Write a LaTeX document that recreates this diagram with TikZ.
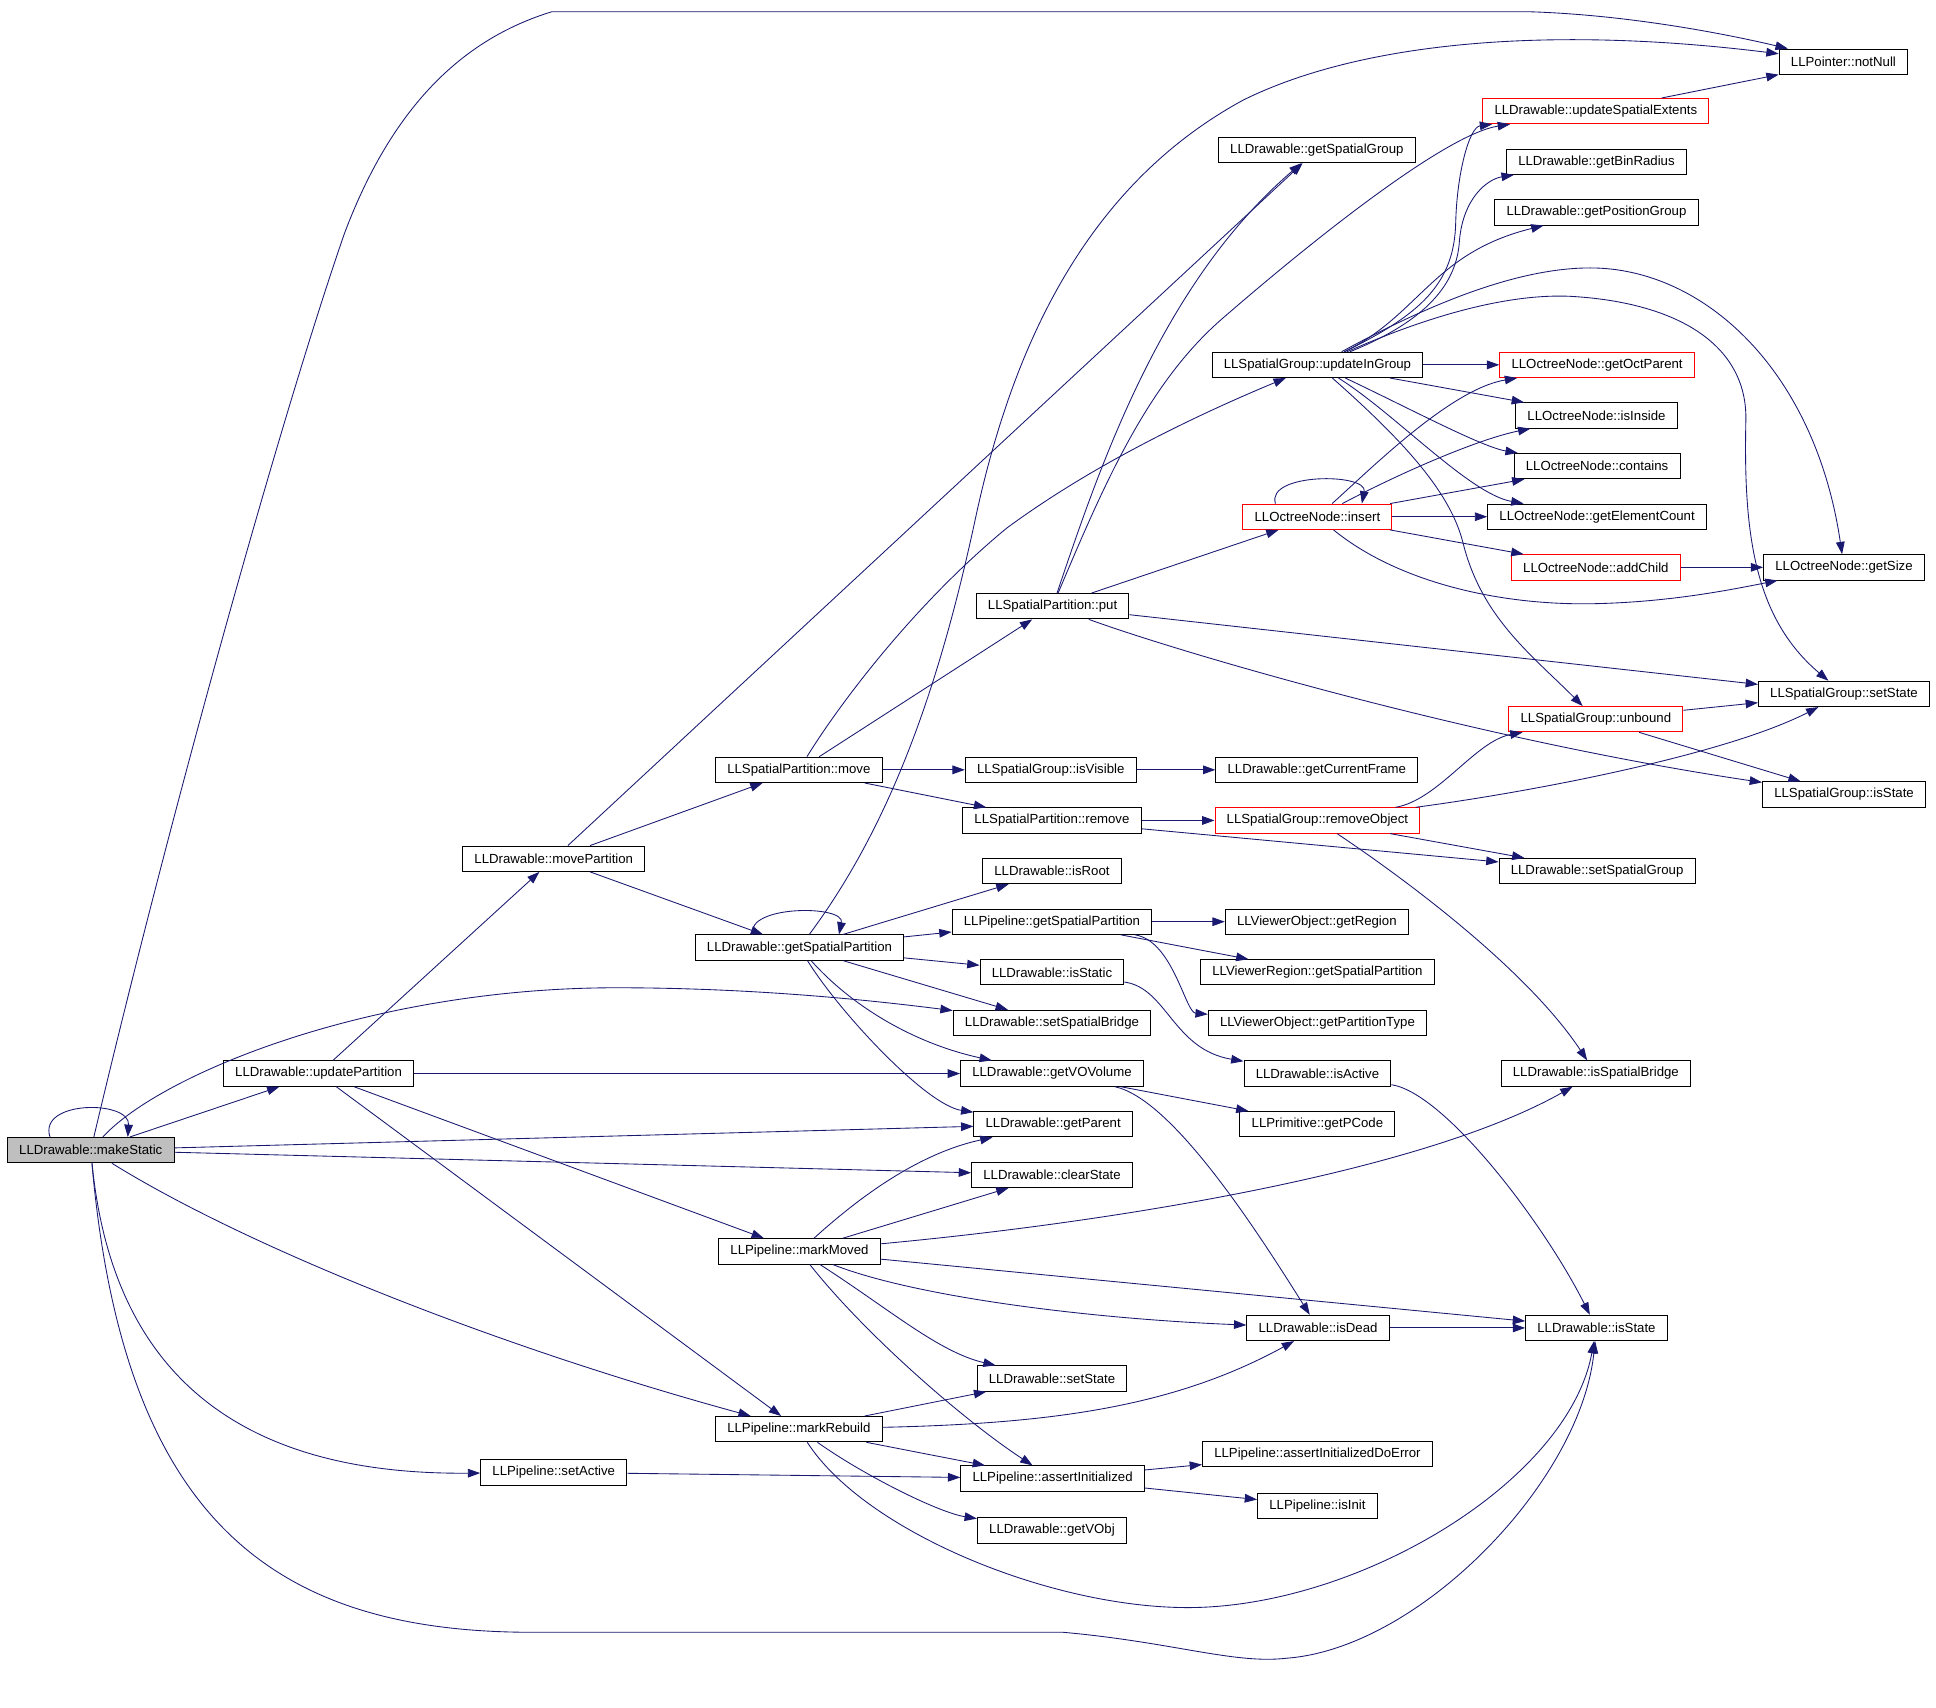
\documentclass[tikz,border=0pt]{standalone}
\usepackage{fontspec}
\setmainfont{Liberation Sans}
\usetikzlibrary{arrows.meta}
\definecolor{edgeblue}{HTML}{191970}
\definecolor{rootgray}{HTML}{BFBFBF}

\begin{document}
\begin{tikzpicture}[
    x=1pt, y=-1pt,
    func/.style={%
      draw,
      rectangle,
      line width=0.8pt,
      minimum height=20.5pt,
      inner xsep=9.5pt,
      inner ysep=0pt,
      font=\fontsize{10.7}{12}\selectfont,
    },
    redfunc/.style={func, draw=red},
    rootfunc/.style={func, fill=rootgray},
    call/.style={%
      color=edgeblue,
      line width=0.7pt,
      -{Triangle[length=10pt,width=7pt]},
    },
  ]
    \useasboundingbox (0,0) rectangle (1568,1383);

    % columns of the call graph
    \node [rootfunc] (ms) at (73.5,931.5) {LLDrawable::makeStatic};

    \node [func] (up) at (258,869.5) {LLDrawable::updatePartition};
    \node [func] (mp) at (448.5,695.5) {LLDrawable::movePartition};
    \node [func] (sa) at (448.5,1192.5) {LLPipeline::setActive};

    \node [func] (spm) at (647,623.5) {LLSpatialPartition::move};
    \node [func] (gsp) at (647.5,767.5) {LLDrawable::getSpatialPartition};
    \node [func] (mm) at (647.5,1013.5) {LLPipeline::markMoved};
    \node [func] (mr) at (647,1157.5) {LLPipeline::markRebuild};

    \node [func] (spp) at (852.5,491) {LLSpatialPartition::put};
    \node [func] (gvis) at (851,623.5) {LLSpatialGroup::isVisible};
    \node [func] (spr) at (852,664.5) {LLSpatialPartition::remove};
    \node [func] (ir) at (852,705.5) {LLDrawable::isRoot};
    \node [func] (pgsp) at (852,746.5) {LLPipeline::getSpatialPartition};
    \node [func] (ist) at (852,787.5) {LLDrawable::isStatic};
    \node [func] (ssb) at (852,828.5) {LLDrawable::setSpatialBridge};
    \node [func] (gvv) at (852,869.5) {LLDrawable::getVOVolume};
    \node [func] (gp) at (853,910.5) {LLDrawable::getParent};
    \node [func] (cs) at (852,951.5) {LLDrawable::clearState};
    \node [func] (dss) at (852,1116.5) {LLDrawable::setState};
    \node [func] (ai) at (852.5,1197.5) {LLPipeline::assertInitialized};
    \node [func] (gvo) at (852,1239.5) {LLDrawable::getVObj};

    \node [func] (gsg) at (1066.5,121.5) {LLDrawable::getSpatialGroup};
    \node [func] (uig) at (1067,295.5) {LLSpatialGroup::updateInGroup};
    \node [redfunc] (ins) at (1067,418.5) {LLOctreeNode::insert};
    \node [func] (gcf) at (1066.5,623.5) {LLDrawable::getCurrentFrame};
    \node [redfunc] (ro) at (1067,664.5) {LLSpatialGroup::removeObject};
    \node [func] (vgr) at (1066.5,746.5) {LLViewerObject::getRegion};
    \node [func] (vrgsp) at (1067,787.5) {LLViewerRegion::getSpatialPartition};
    \node [func] (vgpt) at (1067,828.5) {LLViewerObject::getPartitionType};
    \node [func] (isa) at (1067,869.5) {LLDrawable::isActive};
    \node [func] (pc) at (1067,910.5) {LLPrimitive::getPCode};
    \node [func] (idd) at (1067.5,1075.5) {LLDrawable::isDead};
    \node [func] (aide) at (1067,1177.5) {LLPipeline::assertInitializedDoError};
    \node [func] (ii) at (1067,1219.5) {LLPipeline::isInit};

    \node [redfunc] (use) at (1292.5,90) {LLDrawable::updateSpatialExtents};
    \node [func] (gbr) at (1293,131) {LLDrawable::getBinRadius};
    \node [func] (gpg) at (1293,172) {LLDrawable::getPositionGroup};
    \node [redfunc] (gop) at (1293.5,295.5) {LLOctreeNode::getOctParent};
    \node [func] (isi) at (1293,336.5) {LLOctreeNode::isInside};
    \node [func] (con) at (1293.5,377.5) {LLOctreeNode::contains};
    \node [func] (gec) at (1293.5,418.5) {LLOctreeNode::getElementCount};
    \node [redfunc] (ac) at (1292.5,459.5) {LLOctreeNode::addChild};
    \node [redfunc] (ub) at (1292.5,582.5) {LLSpatialGroup::unbound};
    \node [func] (ssg) at (1293.5,705.5) {LLDrawable::setSpatialGroup};
    \node [func] (isb) at (1292.5,869.5) {LLDrawable::isSpatialBridge};
    \node [func] (dis) at (1293,1075.5) {LLDrawable::isState};

    \node [func] (nn) at (1493,50) {LLPointer::notNull};
    \node [func] (gsz) at (1493.5,459.5) {LLOctreeNode::getSize};
    \node [func] (gss) at (1493.5,562) {LLSpatialGroup::setState};
    \node [func] (gis) at (1493.5,643.5) {LLSpatialGroup::isState};

    % makeStatic
    \draw [call] ([xshift=-33pt]ms.north) .. controls +(-10,-30) and +(2,-30) .. ([xshift=30pt]ms.north);
    \draw [call] (ms) .. controls (140,650) and (230,330) .. (279,189) .. controls (320,80) and (380,30) .. (447,9.5) -- (1238,9.5) .. controls (1320,12) and (1400,28) .. (nn);
    \draw [call] (ms) -- (up);
    \draw [call] (ms) .. controls (130,870) and (300,800) .. (499,800) .. controls (620,800) and (720,812) .. (ssb);
    \draw [call] (ms) -- (gp);
    \draw [call] (ms) -- (cs);
    \draw [call] (ms) .. controls (200,1010) and (400,1090) .. (mr);
    \draw [call] (ms) .. controls (90,1100) and (180,1195) .. (sa);
    \draw [call] (ms) .. controls (100,1230) and (220,1322) .. (431,1322) -- (861,1322) .. controls (950,1330) and (1000,1348) .. (1042,1343) .. controls (1150,1335) and (1280,1200) .. (dis);

    % updatePartition
    \draw [call] (up) -- (mp);
    \draw [call] (up) -- (gvv);
    \draw [call] (up) -- (mm);
    \draw [call] (up) -- (mr);

    % movePartition
    \draw [call] (mp) -- (gsg);
    \draw [call] (mp) -- (spm);
    \draw [call] (mp) -- (gsp);

    % LLSpatialPartition::move
    \draw [call] (spm) .. controls (680,570) and (740,490) .. (815,428) .. controls (880,380) and (960,340) .. (uig);
    \draw [call] (spm) -- (spp);
    \draw [call] (spm) -- (gvis);
    \draw [call] (spm) -- (spr);

    % getSpatialPartition
    \draw [call] ([xshift=-38pt]gsp.north) .. controls +(-5,-24) and +(5,-24) .. ([xshift=32pt]gsp.north);
    \draw [call] (gsp) .. controls (720,670) and (760,560) .. (790,420) .. controls (820,280) and (880,150) .. (1007,81) .. controls (1100,35) and (1250,20) .. (nn);
    \draw [call] (gsp) -- (ir);
    \draw [call] (gsp) -- (pgsp);
    \draw [call] (gsp) -- (ist);
    \draw [call] (gsp) -- (ssb);
    \draw [call] (gsp) .. controls (690,815) and (740,845) .. (gvv);
    \draw [call] (gsp) .. controls (680,820) and (750,895) .. (gp);

    % LLPipeline::getSpatialPartition
    \draw [call] (pgsp) -- (vgr);
    \draw [call] (pgsp) -- (vrgsp);
    \draw [call] (pgsp) .. controls (950,762) and (960,820) .. (vgpt);

    \draw [call] (ist) .. controls (945,800) and (950,850) .. (isa);
    \draw [call] (gvv) -- (pc);
    \draw [call] (gvv) .. controls (950,890) and (1020,1000) .. (idd);
    \draw [call] (isa) .. controls (1170,885) and (1250,990) .. (dis);

    % markMoved
    \draw [call] (mm) .. controls (690,975) and (740,935) .. (gp);
    \draw [call] (mm) -- (cs);
    \draw [call] (mm) .. controls (900,990) and (1150,950) .. (isb);
    \draw [call] (mm) -- (dis);
    \draw [call] (mm) .. controls (740,1050) and (880,1068) .. (idd);
    \draw [call] (mm) .. controls (720,1060) and (760,1095) .. (dss);
    \draw [call] (mm) .. controls (700,1080) and (780,1150) .. (ai);

    % markRebuild
    \draw [call] (mr) -- (dss);
    \draw [call] (mr) .. controls (850,1153) and (950,1140) .. (idd);
    \draw [call] (mr) -- (ai);
    \draw [call] (mr) .. controls (700,1195) and (760,1225) .. (gvo);
    \draw [call] (mr) .. controls (700,1240) and (850,1302) .. (962,1302) .. controls (1100,1302) and (1270,1200) .. (dis);

    \draw [call] (sa) -- (ai);
    \draw [call] (ai) -- (aide);
    \draw [call] (ai) -- (ii);
    \draw [call] (idd) -- (dis);

    % LLSpatialPartition::put
    \draw [call] (spp) -- (ins);
    \draw [call] (spp) .. controls (890,380) and (940,230) .. (gsg);
    \draw [call] (spp) .. controls (895,390) and (930,310) .. (990,258) .. controls (1080,180) and (1175,108) .. (use);
    \draw [call] (spp) -- (gss);
    \draw [call] (spp) .. controls (960,530) and (1200,600) .. (gis);

    % remove and removeObject
    \draw [call] (spr) -- (ro);
    \draw [call] (spr) -- (ssg);
    \draw [call] (ro) .. controls (1165,648) and (1195,600) .. (ub);
    \draw [call] (ro) .. controls (1250,640) and (1400,610) .. (gss);
    \draw [call] (ro) -- (ssg);
    \draw [call] (ro) .. controls (1150,720) and (1240,790) .. (isb);
    \draw [call] (gvis) -- (gcf);
    \draw [call] (ub) -- (gss);
    \draw [call] (ub) -- (gis);

    % updateInGroup
    \draw [call] (uig) .. controls (1150,255) and (1178,230) .. (1179,180) .. controls (1180,140) and (1190,103) .. (use);
    \draw [call] (uig) .. controls (1155,260) and (1180,230) .. (1182,195) .. controls (1185,160) and (1205,145) .. (gbr);
    \draw [call] (uig) .. controls (1150,255) and (1160,205) .. (gpg);
    \draw [call] (uig) .. controls (1160,245) and (1230,217) .. (1288,217) .. controls (1380,217) and (1470,300) .. (gsz);
    \draw [call] (uig) .. controls (1170,250) and (1230,238) .. (1272,240) .. controls (1360,245) and (1415,280) .. (1414,340) .. controls (1412,430) and (1420,500) .. (gss);
    \draw [call] (uig) -- (gop);
    \draw [call] (uig) -- (isi);
    \draw [call] (uig) .. controls (1140,330) and (1200,362) .. (con);
    \draw [call] (uig) .. controls (1130,335) and (1190,400) .. (gec);
    \draw [call] (uig) .. controls (1140,360) and (1175,400) .. (1185,440) .. controls (1200,500) and (1240,530) .. (ub);

    % LLOctreeNode::insert
    \draw [call] ([xshift=-34pt]ins.north) .. controls +(-8,-25) and +(5,-25) .. ([xshift=36pt]ins.north);
    \draw [call] (ins) .. controls (1110,380) and (1175,315) .. (gop);
    \draw [call] (ins) .. controls (1140,380) and (1200,355) .. (isi);
    \draw [call] (ins) -- (con);
    \draw [call] (ins) -- (gec);
    \draw [call] (ins) -- (ac);
    \draw [call] (ins) .. controls (1130,470) and (1210,490) .. (1288,489) .. controls (1350,488) and (1400,478) .. (gsz);
    \draw [call] (ac) -- (gsz);
    \draw [call] (use) -- (nn);
\end{tikzpicture}
\end{document}
